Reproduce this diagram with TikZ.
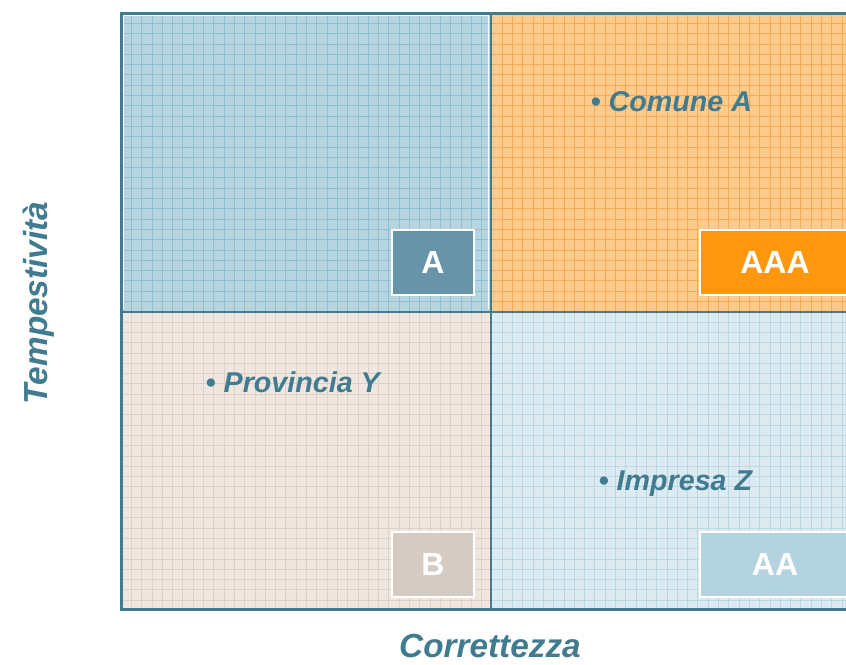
\documentclass[tikz,border=0pt]{standalone}
\usepackage{fontspec}
\setmainfont{Liberation Sans}
\definecolor{frame}{HTML}{417B8F}
\definecolor{qtlbg}{HTML}{B7D5E1}
\definecolor{qtlgr}{HTML}{8FBFD2}
\definecolor{qtrbg}{HTML}{FFCB8C}
\definecolor{qtrgr}{HTML}{F7AA55}
\definecolor{qblbg}{HTML}{EEE6DF}
\definecolor{qblgr}{HTML}{DDD0C6}
\definecolor{qbrbg}{HTML}{DCEBF2}
\definecolor{qbrgr}{HTML}{BCD8E5}
\definecolor{boxA}{HTML}{6794A8}
\definecolor{boxAAA}{HTML}{FF980F}
\definecolor{boxB}{HTML}{D5CBC2}
\definecolor{boxAA}{HTML}{B3D3DF}

\begin{document}
\begin{tikzpicture}[x=0.75pt,y=-0.75pt,
  ratingbox/.style={draw=white, line width=1.5pt, text=white, inner sep=0pt,
    minimum height=48.75pt, font=\bfseries\fontsize{24}{24}\selectfont},
  entry/.style={anchor=west, text=frame, font=\bfseries\itshape\fontsize{21.5}{22}\selectfont},
  axislabel/.style={text=frame, inner sep=0pt, font=\bfseries\itshape\fontsize{25}{26}\selectfont}]
  \useasboundingbox (0,0) rectangle (846,664);
  \foreach \xa/\ya/\xb/\yb/\q in {121/13/491/312/qtl, 491/13/850/312/qtr,
      121/312/491/609/qbl, 491/312/850/609/qbr}
    {\fill[\q bg] (\xa,\ya) rectangle (\xb,\yb);
     \begin{scope}
       \clip (\xa,\ya) rectangle (\xb,\yb);
       \foreach \x in {121,131.3,...,850}
         {\draw[\q gr, line width=0.6pt] (\x,13) -- (\x,609);}
       \foreach \y in {13,23.3,...,609}
         {\draw[\q gr, line width=0.6pt] (121,\y) -- (850,\y);}
     \end{scope}}
  \draw[white, line width=1.2pt] (123,309) -- (123,15) -- (488.5,15) -- (488.5,309);
  \draw[frame, line width=1.5pt] (491,13) -- (491,609);
  \draw[frame, line width=1.5pt] (121,312) -- (850,312);
  \draw[frame, line width=2.25pt] (850,13) -- (121,13) -- (121,609) -- (850,609);
  \node[ratingbox, fill=boxA, minimum width=61.5pt] (rA) at (433,262.5) {A};
  \node[ratingbox, fill=boxAAA, minimum width=112.5pt] (rAAA) at (775,262.5) {AAA};
  \node[ratingbox, fill=boxB, minimum width=61.5pt] (rB) at (433,564) {B};
  \node[ratingbox, fill=boxAA, minimum width=112.5pt] (rAA) at (775,564) {AA};
  \node[entry] (comune) at (586,102) {\textbullet\ Comune A};
  \node[entry] (provincia) at (201,382) {\textbullet\ Provincia Y};
  \node[entry] (impresa) at (594,484) {\textbullet\ Impresa Z};
  \node[axislabel, rotate=90] (tempo) at (39,303) {Tempestività};
  \node[axislabel] (corr) at (490,646) {Correttezza};
\end{tikzpicture}
\end{document}
